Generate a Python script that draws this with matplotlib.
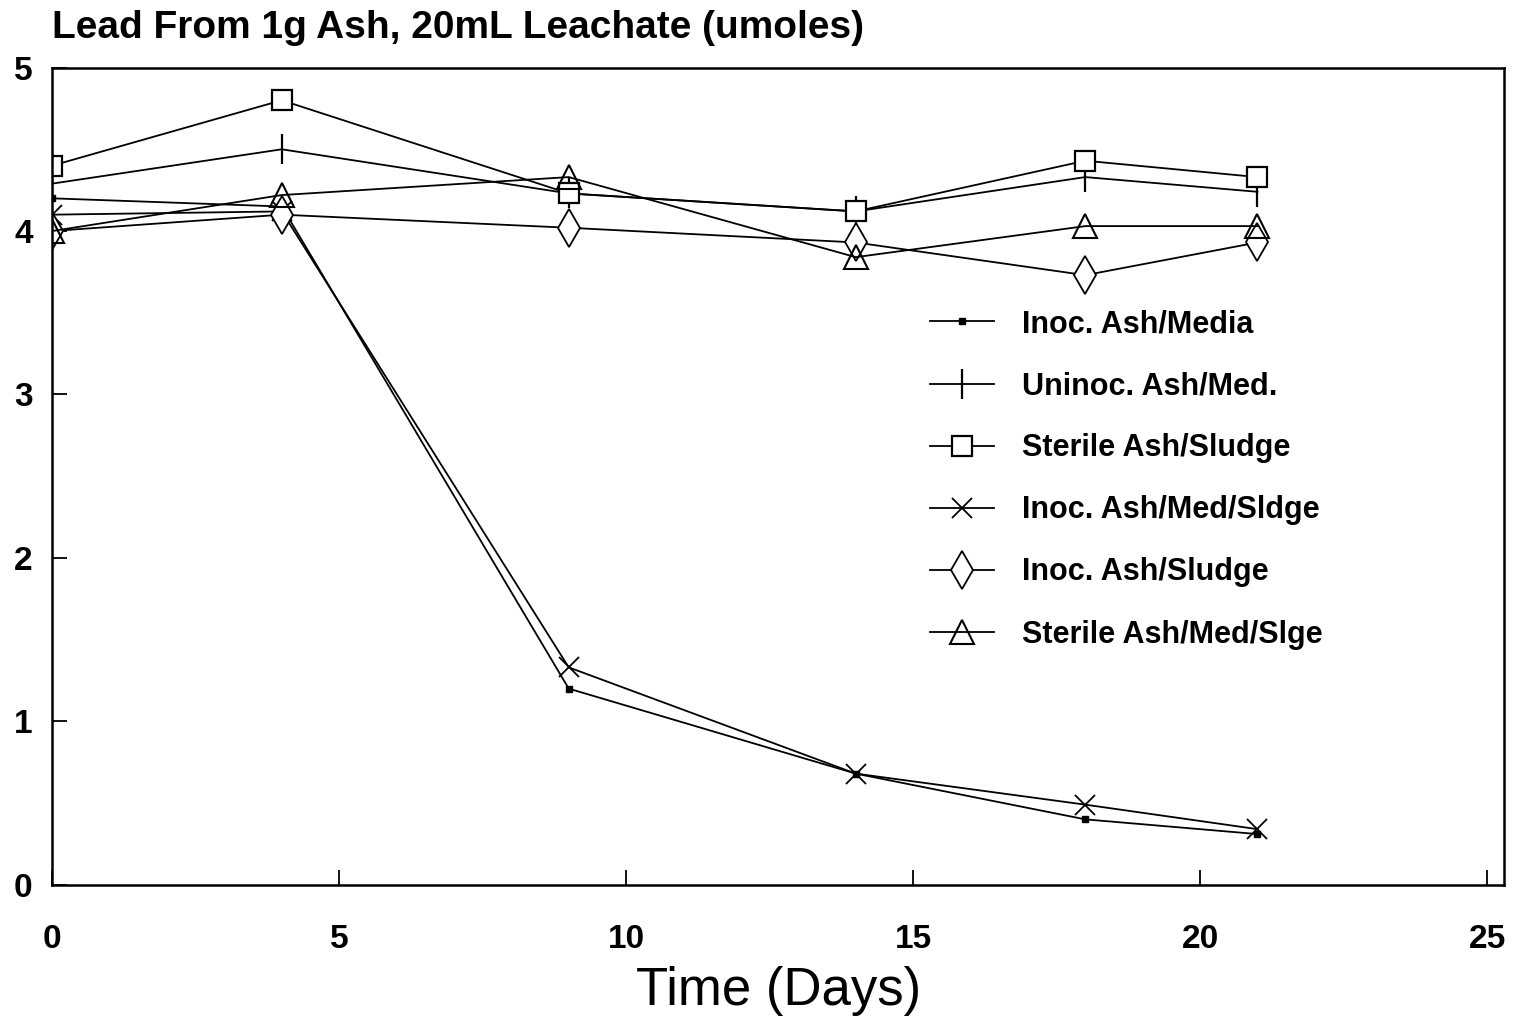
import matplotlib
matplotlib.use('Agg')
import matplotlib.pyplot as plt

days = [0, 4, 9, 14, 18, 21]

inoc_ash_media = [4.20, 4.15, 1.20, 0.68, 0.40, 0.31]
uninoc_ash_med = [4.29, 4.50, 4.23, 4.12, 4.33, 4.24]
sterile_ash_sludge = [4.40, 4.80, 4.23, 4.12, 4.43, 4.33]
inoc_ash_med_sldge = [4.10, 4.12, 1.33, 0.68, 0.49, 0.34]
inoc_ash_sludge = [4.00, 4.10, 4.02, 3.93, 3.73, 3.93]
sterile_ash_med_slge = [4.00, 4.22, 4.33, 3.84, 4.03, 4.03]

labels = ['Inoc. Ash/Media', 'Uninoc. Ash/Med.', 'Sterile Ash/Sludge',
          'Inoc. Ash/Med/Sldge', 'Inoc. Ash/Sludge', 'Sterile Ash/Med/Slge']
x_ticks = [0, 5, 10, 15, 20, 25]
y_ticks = [0, 1, 2, 3, 4, 5]

plt.rcParams['font.family'] = ['Liberation Sans', 'DejaVu Sans']

fig = plt.figure(figsize=(15.35, 10.24), dpi=100)
ax = fig.add_axes([0.034, 0.136, 0.946, 0.798])

series = [inoc_ash_media, uninoc_ash_med, sterile_ash_sludge,
          inoc_ash_med_sldge, inoc_ash_sludge, sterile_ash_med_slge]
styles = [dict(marker='s', markersize=4, markerfacecolor='black'),
          dict(marker='|', markersize=22, markeredgewidth=1.6),
          dict(marker='s', markersize=15, markerfacecolor='white', markeredgewidth=1.6),
          dict(marker='x', markersize=15, markeredgewidth=1.3),
          dict(marker='d', markersize=19, markerfacecolor='white', markeredgewidth=1.3),
          dict(marker='^', markersize=17, markerfacecolor='none', markeredgewidth=1.5)]

for vals, lab, st in zip(series, labels, styles):
    ax.plot(days, vals, color='black', linewidth=1.3, label=lab,
            markeredgecolor='black', **st)

ax.set_xlim(0, 25.3)
ax.set_ylim(0, 5)
ax.set_xticks(x_ticks)
ax.set_yticks(y_ticks)
ax.tick_params(direction='in', length=11, width=1.3, labelsize=24)
ax.tick_params(axis='x', pad=28)
ax.tick_params(axis='y', pad=14)
for t in ax.get_xticklabels() + ax.get_yticklabels():
    t.set_fontweight('bold')
for sp in ax.spines.values():
    sp.set_linewidth(1.8)

ax.set_xlabel('Time (Days)', fontsize=38, labelpad=8)
fig.text(0.034, 0.963, 'Lead From 1g Ash, 20mL Leachate (umoles)',
         fontsize=28, fontweight='bold', ha='left', va='baseline')

leg = ax.legend(loc='upper left', bbox_to_anchor=(0.596, 0.713, 0, 0),
                bbox_transform=fig.transFigure, frameon=False,
                fontsize=22, handlelength=2.1, handletextpad=0.9,
                labelspacing=1.05, borderpad=0)
for t in leg.get_texts():
    t.set_fontweight('bold')

fig.savefig('out.png', dpi=100, facecolor='white')
